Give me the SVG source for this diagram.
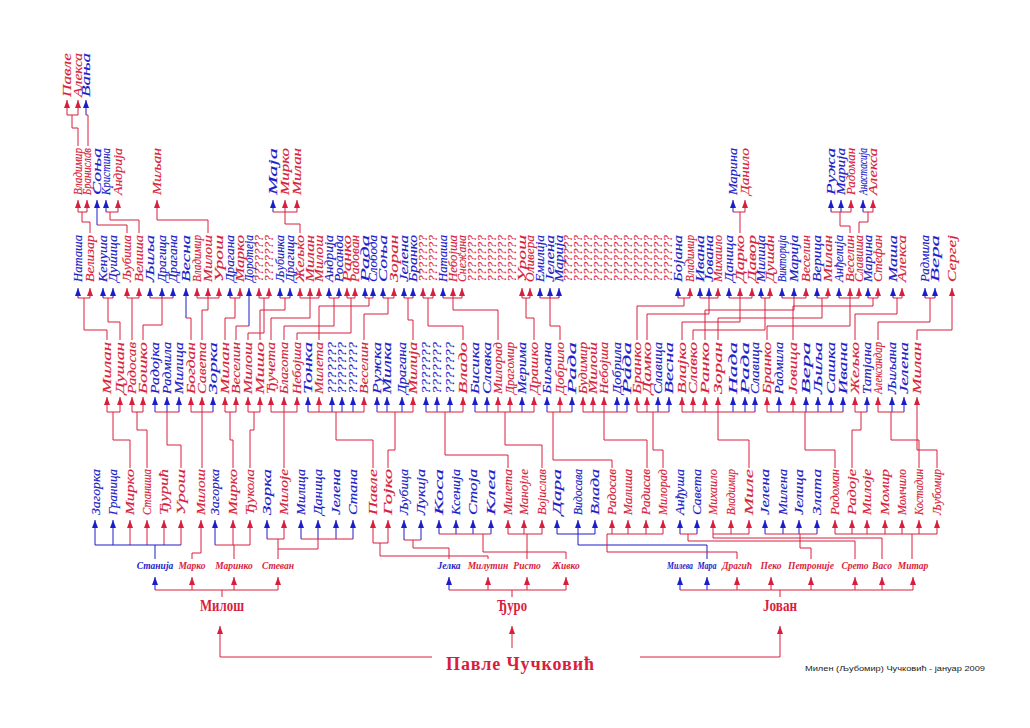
<svg xmlns="http://www.w3.org/2000/svg" width="1030" height="728" viewBox="0 0 1030 728">
<style>
.t{font-family:"Liberation Serif","DejaVu Serif",serif;font-style:italic;font-size:12px;stroke-width:0.15}
.h{font-family:"Liberation Serif","DejaVu Serif",serif;font-style:italic;font-weight:bold;font-size:9.5px}
.g{font-family:"Liberation Serif","DejaVu Serif",serif;font-weight:bold;font-size:16px;fill:#d81e3c}
.r{fill:#d81e3c;stroke:#d81e3c}.b{fill:#1c1cc8;stroke:#1c1cc8}
.h.r,.h.b{stroke:none}
.lr{stroke:#d81e3c;fill:none;stroke-width:1}
.lb{stroke:#1c1cc8;fill:none;stroke-width:1}
.ar{stroke:#d81e3c;fill:none;stroke-width:1;marker-end:url(#mr)}
.ab{stroke:#1c1cc8;fill:none;stroke-width:1;marker-end:url(#mb)}
</style>
<defs>
<marker id="mr" viewBox="0 0 8 6" refX="8" refY="3" markerWidth="8" markerHeight="6" markerUnits="userSpaceOnUse" orient="auto"><path d="M0,0L8,3L0,6z" fill="#d81e3c"/></marker>
<marker id="mb" viewBox="0 0 8 6" refX="8" refY="3" markerWidth="8" markerHeight="6" markerUnits="userSpaceOnUse" orient="auto"><path d="M0,0L8,3L0,6z" fill="#1c1cc8"/></marker>
</defs>
<rect width="1030" height="728" fill="#fff"/>
<g id="row0">
<g id="n0-1"><text class="t r" transform="translate(71,97) rotate(-90)" textLength="44" lengthAdjust="spacingAndGlyphs">Павле</text></g>
<g id="n0-2"><text class="t r" transform="translate(82,97) rotate(-90)" textLength="44" lengthAdjust="spacingAndGlyphs">Алекса</text></g>
<g id="n0-3"><text class="t b" transform="translate(90,97) rotate(-90)" textLength="44" lengthAdjust="spacingAndGlyphs">Вања</text></g>
</g>
<g id="row1">
<g id="n1-1"><text class="t r" transform="translate(82,195) rotate(-90)" textLength="47" lengthAdjust="spacingAndGlyphs">Владимир</text></g>
<g id="n1-2"><text class="t r" transform="translate(91,195) rotate(-90)" textLength="47" lengthAdjust="spacingAndGlyphs">Бранислав</text></g>
<g id="n1-3"><text class="t b" transform="translate(101,195) rotate(-90)" textLength="47" lengthAdjust="spacingAndGlyphs">Соња</text></g>
<g id="n1-4"><text class="t b" transform="translate(110,195) rotate(-90)" textLength="47" lengthAdjust="spacingAndGlyphs">Кристина</text></g>
<g id="n1-5"><text class="t r" transform="translate(122,195) rotate(-90)" textLength="47" lengthAdjust="spacingAndGlyphs">Андрија</text></g>
<g id="n1-6"><text class="t r" transform="translate(161,195) rotate(-90)" textLength="47" lengthAdjust="spacingAndGlyphs">Миљан</text></g>
<g id="n1-7"><text class="t b" transform="translate(277,195) rotate(-90)" textLength="47" lengthAdjust="spacingAndGlyphs">Маја</text></g>
<g id="n1-8"><text class="t r" transform="translate(289,195) rotate(-90)" textLength="47" lengthAdjust="spacingAndGlyphs">Мирко</text></g>
<g id="n1-9"><text class="t r" transform="translate(301,195) rotate(-90)" textLength="47" lengthAdjust="spacingAndGlyphs">Милан</text></g>
<g id="n1-10"><text class="t b" transform="translate(737,195) rotate(-90)" textLength="47" lengthAdjust="spacingAndGlyphs">Марина</text></g>
<g id="n1-11"><text class="t r" transform="translate(749,195) rotate(-90)" textLength="47" lengthAdjust="spacingAndGlyphs">Данило</text></g>
<g id="n1-12"><text class="t b" transform="translate(835,195) rotate(-90)" textLength="47" lengthAdjust="spacingAndGlyphs">Ружа</text></g>
<g id="n1-13"><text class="t b" transform="translate(845,195) rotate(-90)" textLength="47" lengthAdjust="spacingAndGlyphs">Марија</text></g>
<g id="n1-14"><text class="t r" transform="translate(855,195) rotate(-90)" textLength="47" lengthAdjust="spacingAndGlyphs">Радоман</text></g>
<g id="n1-15"><text class="t b" transform="translate(867,195) rotate(-90)" textLength="47" lengthAdjust="spacingAndGlyphs">Анастасија</text></g>
<g id="n1-16"><text class="t r" transform="translate(877,195) rotate(-90)" textLength="47" lengthAdjust="spacingAndGlyphs">Алекса</text></g>
</g>
<g id="row2">
<g id="n2-1"><text class="t b" transform="translate(82,282) rotate(-90)" textLength="47" lengthAdjust="spacingAndGlyphs">Наташа</text></g>
<g id="n2-2"><text class="t r" transform="translate(94,282) rotate(-90)" textLength="47" lengthAdjust="spacingAndGlyphs">Велизар</text></g>
<g id="n2-3"><text class="t b" transform="translate(107,282) rotate(-90)" textLength="47" lengthAdjust="spacingAndGlyphs">Кенуша</text></g>
<g id="n2-4"><text class="t b" transform="translate(117,282) rotate(-90)" textLength="47" lengthAdjust="spacingAndGlyphs">Душица</text></g>
<g id="n2-5"><text class="t r" transform="translate(131,282) rotate(-90)" textLength="47" lengthAdjust="spacingAndGlyphs">Љубиша</text></g>
<g id="n2-6"><text class="t r" transform="translate(143,282) rotate(-90)" textLength="47" lengthAdjust="spacingAndGlyphs">Велиша</text></g>
<g id="n2-7"><text class="t b" transform="translate(154,282) rotate(-90)" textLength="47" lengthAdjust="spacingAndGlyphs">Љиља</text></g>
<g id="n2-8"><text class="t b" transform="translate(166,282) rotate(-90)" textLength="47" lengthAdjust="spacingAndGlyphs">Драгица</text></g>
<g id="n2-9"><text class="t b" transform="translate(177,282) rotate(-90)" textLength="47" lengthAdjust="spacingAndGlyphs">Драгана</text></g>
<g id="n2-10"><text class="t b" transform="translate(190,282) rotate(-90)" textLength="47" lengthAdjust="spacingAndGlyphs">Весна</text></g>
<g id="n2-11"><text class="t r" transform="translate(201,282) rotate(-90)" textLength="47" lengthAdjust="spacingAndGlyphs">Владимир</text></g>
<g id="n2-12"><text class="t r" transform="translate(212,282) rotate(-90)" textLength="47" lengthAdjust="spacingAndGlyphs">Милош</text></g>
<g id="n2-13"><text class="t r" transform="translate(223,282) rotate(-90)" textLength="47" lengthAdjust="spacingAndGlyphs">Урош</text></g>
<g id="n2-14"><text class="t b" transform="translate(234,282) rotate(-90)" textLength="47" lengthAdjust="spacingAndGlyphs">Драгана</text></g>
<g id="n2-15"><text class="t r" transform="translate(244,282) rotate(-90)" textLength="47" lengthAdjust="spacingAndGlyphs">Марко</text></g>
<g id="n2-16"><text class="t b" transform="translate(253,282) rotate(-90)" textLength="47" lengthAdjust="spacingAndGlyphs">Доротеја</text></g>
<g id="n2-17"><text class="t r" transform="translate(263,282) rotate(-90)" textLength="47" lengthAdjust="spacingAndGlyphs">???????</text></g>
<g id="n2-18"><text class="t r" transform="translate(273,282) rotate(-90)" textLength="47" lengthAdjust="spacingAndGlyphs">???????</text></g>
<g id="n2-19"><text class="t b" transform="translate(284,282) rotate(-90)" textLength="47" lengthAdjust="spacingAndGlyphs">Љубинка</text></g>
<g id="n2-20"><text class="t b" transform="translate(294,282) rotate(-90)" textLength="47" lengthAdjust="spacingAndGlyphs">Драгица</text></g>
<g id="n2-21"><text class="t r" transform="translate(304,282) rotate(-90)" textLength="47" lengthAdjust="spacingAndGlyphs">Жељко</text></g>
<g id="n2-22"><text class="t r" transform="translate(314,282) rotate(-90)" textLength="47" lengthAdjust="spacingAndGlyphs">Милан</text></g>
<g id="n2-23"><text class="t r" transform="translate(323,282) rotate(-90)" textLength="47" lengthAdjust="spacingAndGlyphs">Милош</text></g>
<g id="n2-24"><text class="t b" transform="translate(333,282) rotate(-90)" textLength="47" lengthAdjust="spacingAndGlyphs">Андрија</text></g>
<g id="n2-25"><text class="t b" transform="translate(343,282) rotate(-90)" textLength="47" lengthAdjust="spacingAndGlyphs">Росанда</text></g>
<g id="n2-26"><text class="t r" transform="translate(351,282) rotate(-90)" textLength="47" lengthAdjust="spacingAndGlyphs">Ранко</text></g>
<g id="n2-27"><text class="t r" transform="translate(359,282) rotate(-90)" textLength="47" lengthAdjust="spacingAndGlyphs">Радован</text></g>
<g id="n2-28"><text class="t b" transform="translate(369,282) rotate(-90)" textLength="47" lengthAdjust="spacingAndGlyphs">Рада</text></g>
<g id="n2-29"><text class="t b" transform="translate(377,282) rotate(-90)" textLength="47" lengthAdjust="spacingAndGlyphs">Слобода</text></g>
<g id="n2-30"><text class="t b" transform="translate(387,282) rotate(-90)" textLength="47" lengthAdjust="spacingAndGlyphs">Соња</text></g>
<g id="n2-31"><text class="t r" transform="translate(398,282) rotate(-90)" textLength="47" lengthAdjust="spacingAndGlyphs">Зоран</text></g>
<g id="n2-32"><text class="t b" transform="translate(408,282) rotate(-90)" textLength="47" lengthAdjust="spacingAndGlyphs">Јелена</text></g>
<g id="n2-33"><text class="t b" transform="translate(417,282) rotate(-90)" textLength="47" lengthAdjust="spacingAndGlyphs">Бранко</text></g>
<g id="n2-34"><text class="t r" transform="translate(427,282) rotate(-90)" textLength="47" lengthAdjust="spacingAndGlyphs">???????</text></g>
<g id="n2-35"><text class="t r" transform="translate(437,282) rotate(-90)" textLength="47" lengthAdjust="spacingAndGlyphs">???????</text></g>
<g id="n2-36"><text class="t b" transform="translate(447,282) rotate(-90)" textLength="47" lengthAdjust="spacingAndGlyphs">Наташа</text></g>
<g id="n2-37"><text class="t r" transform="translate(457,282) rotate(-90)" textLength="47" lengthAdjust="spacingAndGlyphs">Небојша</text></g>
<g id="n2-38"><text class="t r" transform="translate(466,282) rotate(-90)" textLength="47" lengthAdjust="spacingAndGlyphs">Снежана</text></g>
<g id="n2-39"><text class="t r" transform="translate(476,282) rotate(-90)" textLength="47" lengthAdjust="spacingAndGlyphs">???????</text></g>
<g id="n2-40"><text class="t r" transform="translate(486,282) rotate(-90)" textLength="47" lengthAdjust="spacingAndGlyphs">???????</text></g>
<g id="n2-41"><text class="t r" transform="translate(496,282) rotate(-90)" textLength="47" lengthAdjust="spacingAndGlyphs">???????</text></g>
<g id="n2-42"><text class="t r" transform="translate(506,282) rotate(-90)" textLength="47" lengthAdjust="spacingAndGlyphs">???????</text></g>
<g id="n2-43"><text class="t r" transform="translate(516,282) rotate(-90)" textLength="47" lengthAdjust="spacingAndGlyphs">???????</text></g>
<g id="n2-44"><text class="t r" transform="translate(526,282) rotate(-90)" textLength="47" lengthAdjust="spacingAndGlyphs">Урош</text></g>
<g id="n2-45"><text class="t r" transform="translate(534,282) rotate(-90)" textLength="47" lengthAdjust="spacingAndGlyphs">Оливера</text></g>
<g id="n2-46"><text class="t b" transform="translate(544,282) rotate(-90)" textLength="47" lengthAdjust="spacingAndGlyphs">Емилија</text></g>
<g id="n2-47"><text class="t b" transform="translate(554,282) rotate(-90)" textLength="47" lengthAdjust="spacingAndGlyphs">Јелена</text></g>
<g id="n2-48"><text class="t b" transform="translate(563,282) rotate(-90)" textLength="47" lengthAdjust="spacingAndGlyphs">Марија</text></g>
<g id="n2-49"><text class="t r" transform="translate(572,282) rotate(-90)" textLength="47" lengthAdjust="spacingAndGlyphs">???????</text></g>
<g id="n2-50"><text class="t r" transform="translate(582,282) rotate(-90)" textLength="47" lengthAdjust="spacingAndGlyphs">???????</text></g>
<g id="n2-51"><text class="t r" transform="translate(592,282) rotate(-90)" textLength="47" lengthAdjust="spacingAndGlyphs">???????</text></g>
<g id="n2-52"><text class="t r" transform="translate(602,282) rotate(-90)" textLength="47" lengthAdjust="spacingAndGlyphs">???????</text></g>
<g id="n2-53"><text class="t r" transform="translate(612,282) rotate(-90)" textLength="47" lengthAdjust="spacingAndGlyphs">???????</text></g>
<g id="n2-54"><text class="t r" transform="translate(622,282) rotate(-90)" textLength="47" lengthAdjust="spacingAndGlyphs">???????</text></g>
<g id="n2-55"><text class="t r" transform="translate(632,282) rotate(-90)" textLength="47" lengthAdjust="spacingAndGlyphs">???????</text></g>
<g id="n2-56"><text class="t r" transform="translate(642,282) rotate(-90)" textLength="47" lengthAdjust="spacingAndGlyphs">???????</text></g>
<g id="n2-57"><text class="t r" transform="translate(652,282) rotate(-90)" textLength="47" lengthAdjust="spacingAndGlyphs">???????</text></g>
<g id="n2-58"><text class="t r" transform="translate(662,282) rotate(-90)" textLength="47" lengthAdjust="spacingAndGlyphs">???????</text></g>
<g id="n2-59"><text class="t r" transform="translate(672,282) rotate(-90)" textLength="47" lengthAdjust="spacingAndGlyphs">???????</text></g>
<g id="n2-60"><text class="t b" transform="translate(682,282) rotate(-90)" textLength="47" lengthAdjust="spacingAndGlyphs">Бојана</text></g>
<g id="n2-61"><text class="t r" transform="translate(694,282) rotate(-90)" textLength="47" lengthAdjust="spacingAndGlyphs">Владимир</text></g>
<g id="n2-62"><text class="t b" transform="translate(704,282) rotate(-90)" textLength="47" lengthAdjust="spacingAndGlyphs">Ивана</text></g>
<g id="n2-63"><text class="t b" transform="translate(713,282) rotate(-90)" textLength="47" lengthAdjust="spacingAndGlyphs">Јована</text></g>
<g id="n2-64"><text class="t r" transform="translate(722,282) rotate(-90)" textLength="47" lengthAdjust="spacingAndGlyphs">Михаило</text></g>
<g id="n2-65"><text class="t b" transform="translate(733,282) rotate(-90)" textLength="47" lengthAdjust="spacingAndGlyphs">Даница</text></g>
<g id="n2-66"><text class="t r" transform="translate(744,282) rotate(-90)" textLength="47" lengthAdjust="spacingAndGlyphs">Дарко</text></g>
<g id="n2-67"><text class="t r" transform="translate(756,282) rotate(-90)" textLength="47" lengthAdjust="spacingAndGlyphs">Давор</text></g>
<g id="n2-68"><text class="t b" transform="translate(765,282) rotate(-90)" textLength="47" lengthAdjust="spacingAndGlyphs">Милица</text></g>
<g id="n2-69"><text class="t r" transform="translate(774,282) rotate(-90)" textLength="47" lengthAdjust="spacingAndGlyphs">Душан</text></g>
<g id="n2-70"><text class="t b" transform="translate(786,282) rotate(-90)" textLength="47" lengthAdjust="spacingAndGlyphs">Викторија</text></g>
<g id="n2-71"><text class="t b" transform="translate(798,282) rotate(-90)" textLength="47" lengthAdjust="spacingAndGlyphs">Марија</text></g>
<g id="n2-72"><text class="t r" transform="translate(810,282) rotate(-90)" textLength="47" lengthAdjust="spacingAndGlyphs">Веселин</text></g>
<g id="n2-73"><text class="t b" transform="translate(821,282) rotate(-90)" textLength="47" lengthAdjust="spacingAndGlyphs">Верица</text></g>
<g id="n2-74"><text class="t r" transform="translate(832,282) rotate(-90)" textLength="47" lengthAdjust="spacingAndGlyphs">Милан</text></g>
<g id="n2-75"><text class="t b" transform="translate(843,282) rotate(-90)" textLength="47" lengthAdjust="spacingAndGlyphs">Анђелија</text></g>
<g id="n2-76"><text class="t r" transform="translate(854,282) rotate(-90)" textLength="47" lengthAdjust="spacingAndGlyphs">Веселин</text></g>
<g id="n2-77"><text class="t r" transform="translate(863,282) rotate(-90)" textLength="47" lengthAdjust="spacingAndGlyphs">Славиша</text></g>
<g id="n2-78"><text class="t b" transform="translate(872,282) rotate(-90)" textLength="47" lengthAdjust="spacingAndGlyphs">Марина</text></g>
<g id="n2-79"><text class="t r" transform="translate(882,282) rotate(-90)" textLength="47" lengthAdjust="spacingAndGlyphs">Стефан</text></g>
<g id="n2-80"><text class="t b" transform="translate(897,282) rotate(-90)" textLength="47" lengthAdjust="spacingAndGlyphs">Маша</text></g>
<g id="n2-81"><text class="t r" transform="translate(906,282) rotate(-90)" textLength="47" lengthAdjust="spacingAndGlyphs">Алекса</text></g>
<g id="n2-82"><text class="t b" transform="translate(929,282) rotate(-90)" textLength="47" lengthAdjust="spacingAndGlyphs">Радмила</text></g>
<g id="n2-83"><text class="t b" transform="translate(939,282) rotate(-90)" textLength="47" lengthAdjust="spacingAndGlyphs">Вера</text></g>
<g id="n2-84"><text class="t r" transform="translate(956,282) rotate(-90)" textLength="47" lengthAdjust="spacingAndGlyphs">Сергеј</text></g>
</g>
<g id="row3">
<g id="n3-1"><text class="t r" transform="translate(111,394) rotate(-90)" textLength="52" lengthAdjust="spacingAndGlyphs">Милан</text></g>
<g id="n3-2"><text class="t r" transform="translate(124,394) rotate(-90)" textLength="52" lengthAdjust="spacingAndGlyphs">Душан</text></g>
<g id="n3-3"><text class="t r" transform="translate(136,394) rotate(-90)" textLength="52" lengthAdjust="spacingAndGlyphs">Радосав</text></g>
<g id="n3-4"><text class="t r" transform="translate(147,394) rotate(-90)" textLength="52" lengthAdjust="spacingAndGlyphs">Бошко</text></g>
<g id="n3-5"><text class="t b" transform="translate(159,394) rotate(-90)" textLength="52" lengthAdjust="spacingAndGlyphs">Радојка</text></g>
<g id="n3-6"><text class="t b" transform="translate(171,394) rotate(-90)" textLength="52" lengthAdjust="spacingAndGlyphs">Радмила</text></g>
<g id="n3-7"><text class="t b" transform="translate(183,394) rotate(-90)" textLength="52" lengthAdjust="spacingAndGlyphs">Милица</text></g>
<g id="n3-8"><text class="t r" transform="translate(195,394) rotate(-90)" textLength="52" lengthAdjust="spacingAndGlyphs">Богдан</text></g>
<g id="n3-9"><text class="t r" transform="translate(206,394) rotate(-90)" textLength="52" lengthAdjust="spacingAndGlyphs">Савета</text></g>
<g id="n3-10"><text class="t b" transform="translate(217,394) rotate(-90)" textLength="52" lengthAdjust="spacingAndGlyphs">Зорка</text></g>
<g id="n3-11"><text class="t r" transform="translate(229,394) rotate(-90)" textLength="52" lengthAdjust="spacingAndGlyphs">Милан</text></g>
<g id="n3-12"><text class="t r" transform="translate(240,394) rotate(-90)" textLength="52" lengthAdjust="spacingAndGlyphs">Веселин</text></g>
<g id="n3-13"><text class="t r" transform="translate(252,394) rotate(-90)" textLength="52" lengthAdjust="spacingAndGlyphs">Милош</text></g>
<g id="n3-14"><text class="t r" transform="translate(264,394) rotate(-90)" textLength="52" lengthAdjust="spacingAndGlyphs">Мишо</text></g>
<g id="n3-15"><text class="t r" transform="translate(275,394) rotate(-90)" textLength="52" lengthAdjust="spacingAndGlyphs">Ђучета</text></g>
<g id="n3-16"><text class="t r" transform="translate(288,394) rotate(-90)" textLength="52" lengthAdjust="spacingAndGlyphs">Благота</text></g>
<g id="n3-17"><text class="t r" transform="translate(301,394) rotate(-90)" textLength="52" lengthAdjust="spacingAndGlyphs">Небојша</text></g>
<g id="n3-18"><text class="t b" transform="translate(312,394) rotate(-90)" textLength="52" lengthAdjust="spacingAndGlyphs">Тонка</text></g>
<g id="n3-19"><text class="t r" transform="translate(323,394) rotate(-90)" textLength="52" lengthAdjust="spacingAndGlyphs">Милета</text></g>
<g id="n3-20"><text class="t b" transform="translate(336,394) rotate(-90)" textLength="52" lengthAdjust="spacingAndGlyphs">???????</text></g>
<g id="n3-21"><text class="t b" transform="translate(346,394) rotate(-90)" textLength="52" lengthAdjust="spacingAndGlyphs">???????</text></g>
<g id="n3-22"><text class="t b" transform="translate(357,394) rotate(-90)" textLength="52" lengthAdjust="spacingAndGlyphs">???????</text></g>
<g id="n3-23"><text class="t r" transform="translate(368,394) rotate(-90)" textLength="52" lengthAdjust="spacingAndGlyphs">Веселин</text></g>
<g id="n3-24"><text class="t b" transform="translate(381,394) rotate(-90)" textLength="52" lengthAdjust="spacingAndGlyphs">Ружка</text></g>
<g id="n3-25"><text class="t b" transform="translate(391,394) rotate(-90)" textLength="52" lengthAdjust="spacingAndGlyphs">Милка</text></g>
<g id="n3-26"><text class="t b" transform="translate(406,394) rotate(-90)" textLength="52" lengthAdjust="spacingAndGlyphs">Драгана</text></g>
<g id="n3-27"><text class="t r" transform="translate(417,394) rotate(-90)" textLength="52" lengthAdjust="spacingAndGlyphs">Милија</text></g>
<g id="n3-28"><text class="t b" transform="translate(430,394) rotate(-90)" textLength="52" lengthAdjust="spacingAndGlyphs">???????</text></g>
<g id="n3-29"><text class="t b" transform="translate(441,394) rotate(-90)" textLength="52" lengthAdjust="spacingAndGlyphs">???????</text></g>
<g id="n3-30"><text class="t b" transform="translate(454,394) rotate(-90)" textLength="52" lengthAdjust="spacingAndGlyphs">???????</text></g>
<g id="n3-31"><text class="t r" transform="translate(467,394) rotate(-90)" textLength="52" lengthAdjust="spacingAndGlyphs">Владо</text></g>
<g id="n3-32"><text class="t b" transform="translate(479,394) rotate(-90)" textLength="52" lengthAdjust="spacingAndGlyphs">Бисика</text></g>
<g id="n3-33"><text class="t b" transform="translate(491,394) rotate(-90)" textLength="52" lengthAdjust="spacingAndGlyphs">Славка</text></g>
<g id="n3-34"><text class="t r" transform="translate(502,394) rotate(-90)" textLength="52" lengthAdjust="spacingAndGlyphs">Милорад</text></g>
<g id="n3-35"><text class="t r" transform="translate(514,394) rotate(-90)" textLength="52" lengthAdjust="spacingAndGlyphs">Драгомир</text></g>
<g id="n3-36"><text class="t b" transform="translate(526,394) rotate(-90)" textLength="52" lengthAdjust="spacingAndGlyphs">Мерима</text></g>
<g id="n3-37"><text class="t r" transform="translate(538,394) rotate(-90)" textLength="52" lengthAdjust="spacingAndGlyphs">Драшко</text></g>
<g id="n3-38"><text class="t b" transform="translate(551,394) rotate(-90)" textLength="52" lengthAdjust="spacingAndGlyphs">Биљана</text></g>
<g id="n3-39"><text class="t r" transform="translate(564,394) rotate(-90)" textLength="52" lengthAdjust="spacingAndGlyphs">Добрило</text></g>
<g id="n3-40"><text class="t b" transform="translate(576,394) rotate(-90)" textLength="52" lengthAdjust="spacingAndGlyphs">Рада</text></g>
<g id="n3-41"><text class="t r" transform="translate(587,394) rotate(-90)" textLength="52" lengthAdjust="spacingAndGlyphs">Будимир</text></g>
<g id="n3-42"><text class="t r" transform="translate(597,394) rotate(-90)" textLength="52" lengthAdjust="spacingAndGlyphs">Милош</text></g>
<g id="n3-43"><text class="t r" transform="translate(608,394) rotate(-90)" textLength="52" lengthAdjust="spacingAndGlyphs">Небојша</text></g>
<g id="n3-44"><text class="t b" transform="translate(621,394) rotate(-90)" textLength="52" lengthAdjust="spacingAndGlyphs">Добрила</text></g>
<g id="n3-45"><text class="t b" transform="translate(631,394) rotate(-90)" textLength="52" lengthAdjust="spacingAndGlyphs">Рада</text></g>
<g id="n3-46"><text class="t r" transform="translate(641,394) rotate(-90)" textLength="52" lengthAdjust="spacingAndGlyphs">Бранко</text></g>
<g id="n3-47"><text class="t r" transform="translate(651,394) rotate(-90)" textLength="52" lengthAdjust="spacingAndGlyphs">Дамко</text></g>
<g id="n3-48"><text class="t b" transform="translate(662,394) rotate(-90)" textLength="52" lengthAdjust="spacingAndGlyphs">Славица</text></g>
<g id="n3-49"><text class="t b" transform="translate(673,394) rotate(-90)" textLength="52" lengthAdjust="spacingAndGlyphs">Весна</text></g>
<g id="n3-50"><text class="t r" transform="translate(686,394) rotate(-90)" textLength="52" lengthAdjust="spacingAndGlyphs">Влајко</text></g>
<g id="n3-51"><text class="t r" transform="translate(697,394) rotate(-90)" textLength="52" lengthAdjust="spacingAndGlyphs">Славко</text></g>
<g id="n3-52"><text class="t r" transform="translate(709,394) rotate(-90)" textLength="52" lengthAdjust="spacingAndGlyphs">Ранко</text></g>
<g id="n3-53"><text class="t r" transform="translate(722,394) rotate(-90)" textLength="52" lengthAdjust="spacingAndGlyphs">Зоран</text></g>
<g id="n3-54"><text class="t b" transform="translate(737,394) rotate(-90)" textLength="52" lengthAdjust="spacingAndGlyphs">Нада</text></g>
<g id="n3-55"><text class="t b" transform="translate(749,394) rotate(-90)" textLength="52" lengthAdjust="spacingAndGlyphs">Рада</text></g>
<g id="n3-56"><text class="t b" transform="translate(759,394) rotate(-90)" textLength="52" lengthAdjust="spacingAndGlyphs">Славица</text></g>
<g id="n3-57"><text class="t r" transform="translate(771,394) rotate(-90)" textLength="52" lengthAdjust="spacingAndGlyphs">Бранко</text></g>
<g id="n3-58"><text class="t b" transform="translate(783,394) rotate(-90)" textLength="52" lengthAdjust="spacingAndGlyphs">Радмила</text></g>
<g id="n3-59"><text class="t r" transform="translate(797,394) rotate(-90)" textLength="52" lengthAdjust="spacingAndGlyphs">Јовица</text></g>
<g id="n3-60"><text class="t b" transform="translate(810,394) rotate(-90)" textLength="52" lengthAdjust="spacingAndGlyphs">Вера</text></g>
<g id="n3-61"><text class="t b" transform="translate(822,394) rotate(-90)" textLength="52" lengthAdjust="spacingAndGlyphs">Љиља</text></g>
<g id="n3-62"><text class="t b" transform="translate(835,394) rotate(-90)" textLength="52" lengthAdjust="spacingAndGlyphs">Сашка</text></g>
<g id="n3-63"><text class="t b" transform="translate(847,394) rotate(-90)" textLength="52" lengthAdjust="spacingAndGlyphs">Ивана</text></g>
<g id="n3-64"><text class="t r" transform="translate(859,394) rotate(-90)" textLength="52" lengthAdjust="spacingAndGlyphs">Жељко</text></g>
<g id="n3-65"><text class="t b" transform="translate(871,394) rotate(-90)" textLength="52" lengthAdjust="spacingAndGlyphs">Татјана</text></g>
<g id="n3-66"><text class="t r" transform="translate(882,394) rotate(-90)" textLength="52" lengthAdjust="spacingAndGlyphs">Александар</text></g>
<g id="n3-67"><text class="t b" transform="translate(896,394) rotate(-90)" textLength="52" lengthAdjust="spacingAndGlyphs">Љиљана</text></g>
<g id="n3-68"><text class="t b" transform="translate(908,394) rotate(-90)" textLength="52" lengthAdjust="spacingAndGlyphs">Јелена</text></g>
<g id="n3-69"><text class="t r" transform="translate(921,394) rotate(-90)" textLength="52" lengthAdjust="spacingAndGlyphs">Милан</text></g>
</g>
<g id="row4">
<g id="n4-1"><text class="t b" transform="translate(100,515) rotate(-90)" textLength="46" lengthAdjust="spacingAndGlyphs">Загорка</text></g>
<g id="n4-2"><text class="t b" transform="translate(117,515) rotate(-90)" textLength="46" lengthAdjust="spacingAndGlyphs">Граница</text></g>
<g id="n4-3"><text class="t r" transform="translate(134,515) rotate(-90)" textLength="46" lengthAdjust="spacingAndGlyphs">Мирко</text></g>
<g id="n4-4"><text class="t r" transform="translate(151,515) rotate(-90)" textLength="46" lengthAdjust="spacingAndGlyphs">Станиша</text></g>
<g id="n4-5"><text class="t r" transform="translate(168,515) rotate(-90)" textLength="46" lengthAdjust="spacingAndGlyphs">Ђурић</text></g>
<g id="n4-6"><text class="t r" transform="translate(185,515) rotate(-90)" textLength="46" lengthAdjust="spacingAndGlyphs">Урош</text></g>
<g id="n4-7"><text class="t r" transform="translate(205,515) rotate(-90)" textLength="46" lengthAdjust="spacingAndGlyphs">Милош</text></g>
<g id="n4-8"><text class="t b" transform="translate(219,515) rotate(-90)" textLength="46" lengthAdjust="spacingAndGlyphs">Загорка</text></g>
<g id="n4-9"><text class="t r" transform="translate(237,515) rotate(-90)" textLength="46" lengthAdjust="spacingAndGlyphs">Мирко</text></g>
<g id="n4-10"><text class="t r" transform="translate(254,515) rotate(-90)" textLength="46" lengthAdjust="spacingAndGlyphs">Ђукола</text></g>
<g id="n4-11"><text class="t b" transform="translate(271,515) rotate(-90)" textLength="46" lengthAdjust="spacingAndGlyphs">Зорка</text></g>
<g id="n4-12"><text class="t r" transform="translate(288,515) rotate(-90)" textLength="46" lengthAdjust="spacingAndGlyphs">Милоје</text></g>
<g id="n4-13"><text class="t b" transform="translate(305,515) rotate(-90)" textLength="46" lengthAdjust="spacingAndGlyphs">Милица</text></g>
<g id="n4-14"><text class="t b" transform="translate(322,515) rotate(-90)" textLength="46" lengthAdjust="spacingAndGlyphs">Даница</text></g>
<g id="n4-15"><text class="t b" transform="translate(340,515) rotate(-90)" textLength="46" lengthAdjust="spacingAndGlyphs">Јелена</text></g>
<g id="n4-16"><text class="t b" transform="translate(357,515) rotate(-90)" textLength="46" lengthAdjust="spacingAndGlyphs">Стана</text></g>
<g id="n4-17"><text class="t r" transform="translate(377,515) rotate(-90)" textLength="46" lengthAdjust="spacingAndGlyphs">Павле</text></g>
<g id="n4-18"><text class="t r" transform="translate(392,515) rotate(-90)" textLength="46" lengthAdjust="spacingAndGlyphs">Гојко</text></g>
<g id="n4-19"><text class="t b" transform="translate(408,515) rotate(-90)" textLength="46" lengthAdjust="spacingAndGlyphs">Љубица</text></g>
<g id="n4-20"><text class="t b" transform="translate(425,515) rotate(-90)" textLength="46" lengthAdjust="spacingAndGlyphs">Лукија</text></g>
<g id="n4-21"><text class="t b" transform="translate(443,515) rotate(-90)" textLength="46" lengthAdjust="spacingAndGlyphs">Коса</text></g>
<g id="n4-22"><text class="t b" transform="translate(460,515) rotate(-90)" textLength="46" lengthAdjust="spacingAndGlyphs">Ксенија</text></g>
<g id="n4-23"><text class="t b" transform="translate(477,515) rotate(-90)" textLength="46" lengthAdjust="spacingAndGlyphs">Стоја</text></g>
<g id="n4-24"><text class="t b" transform="translate(495,515) rotate(-90)" textLength="46" lengthAdjust="spacingAndGlyphs">Клеа</text></g>
<g id="n4-25"><text class="t r" transform="translate(512,515) rotate(-90)" textLength="46" lengthAdjust="spacingAndGlyphs">Милета</text></g>
<g id="n4-26"><text class="t r" transform="translate(528,515) rotate(-90)" textLength="46" lengthAdjust="spacingAndGlyphs">Манојле</text></g>
<g id="n4-27"><text class="t r" transform="translate(546,515) rotate(-90)" textLength="46" lengthAdjust="spacingAndGlyphs">Војислав</text></g>
<g id="n4-28"><text class="t b" transform="translate(561,515) rotate(-90)" textLength="46" lengthAdjust="spacingAndGlyphs">Дара</text></g>
<g id="n4-29"><text class="t b" transform="translate(582,515) rotate(-90)" textLength="46" lengthAdjust="spacingAndGlyphs">Видосава</text></g>
<g id="n4-30"><text class="t b" transform="translate(599,515) rotate(-90)" textLength="46" lengthAdjust="spacingAndGlyphs">Влада</text></g>
<g id="n4-31"><text class="t r" transform="translate(616,515) rotate(-90)" textLength="46" lengthAdjust="spacingAndGlyphs">Радосав</text></g>
<g id="n4-32"><text class="t r" transform="translate(632,515) rotate(-90)" textLength="46" lengthAdjust="spacingAndGlyphs">Малиша</text></g>
<g id="n4-33"><text class="t r" transform="translate(650,515) rotate(-90)" textLength="46" lengthAdjust="spacingAndGlyphs">Радисав</text></g>
<g id="n4-34"><text class="t r" transform="translate(667,515) rotate(-90)" textLength="46" lengthAdjust="spacingAndGlyphs">Милорад</text></g>
<g id="n4-35"><text class="t b" transform="translate(684,515) rotate(-90)" textLength="46" lengthAdjust="spacingAndGlyphs">Анђуша</text></g>
<g id="n4-36"><text class="t b" transform="translate(701,515) rotate(-90)" textLength="46" lengthAdjust="spacingAndGlyphs">Савета</text></g>
<g id="n4-37"><text class="t r" transform="translate(717,515) rotate(-90)" textLength="46" lengthAdjust="spacingAndGlyphs">Михаило</text></g>
<g id="n4-38"><text class="t r" transform="translate(735,515) rotate(-90)" textLength="46" lengthAdjust="spacingAndGlyphs">Владимир</text></g>
<g id="n4-39"><text class="t r" transform="translate(753,515) rotate(-90)" textLength="46" lengthAdjust="spacingAndGlyphs">Миле</text></g>
<g id="n4-40"><text class="t b" transform="translate(769,515) rotate(-90)" textLength="46" lengthAdjust="spacingAndGlyphs">Јелена</text></g>
<g id="n4-41"><text class="t b" transform="translate(787,515) rotate(-90)" textLength="46" lengthAdjust="spacingAndGlyphs">Милена</text></g>
<g id="n4-42"><text class="t b" transform="translate(803,515) rotate(-90)" textLength="46" lengthAdjust="spacingAndGlyphs">Јелица</text></g>
<g id="n4-43"><text class="t b" transform="translate(821,515) rotate(-90)" textLength="46" lengthAdjust="spacingAndGlyphs">Злата</text></g>
<g id="n4-44"><text class="t r" transform="translate(839,515) rotate(-90)" textLength="46" lengthAdjust="spacingAndGlyphs">Радоман</text></g>
<g id="n4-45"><text class="t r" transform="translate(856,515) rotate(-90)" textLength="46" lengthAdjust="spacingAndGlyphs">Радоје</text></g>
<g id="n4-46"><text class="t r" transform="translate(871,515) rotate(-90)" textLength="46" lengthAdjust="spacingAndGlyphs">Милоје</text></g>
<g id="n4-47"><text class="t r" transform="translate(889,515) rotate(-90)" textLength="46" lengthAdjust="spacingAndGlyphs">Момир</text></g>
<g id="n4-48"><text class="t r" transform="translate(906,515) rotate(-90)" textLength="46" lengthAdjust="spacingAndGlyphs">Момчило</text></g>
<g id="n4-49"><text class="t r" transform="translate(923,515) rotate(-90)" textLength="46" lengthAdjust="spacingAndGlyphs">Костадин</text></g>
<g id="n4-50"><text class="t r" transform="translate(941,515) rotate(-90)" textLength="46" lengthAdjust="spacingAndGlyphs">Љубомир</text></g>
</g>
<g id="row5">
<g id="n5-1"><text class="h b" x="155" y="569" text-anchor="middle">Станија</text></g>
<g id="n5-2"><text class="h r" x="192" y="569" text-anchor="middle">Марко</text></g>
<g id="n5-3"><text class="h r" x="234" y="569" text-anchor="middle">Маринко</text></g>
<g id="n5-4"><text class="h r" x="278" y="569" text-anchor="middle">Стеван</text></g>
<g id="n5-5"><text class="h b" x="449" y="569" text-anchor="middle">Јелка</text></g>
<g id="n5-6"><text class="h r" x="488" y="569" text-anchor="middle">Милутин</text></g>
<g id="n5-7"><text class="h r" x="527" y="569" text-anchor="middle">Ристо</text></g>
<g id="n5-8"><text class="h r" x="566" y="569" text-anchor="middle">Живко</text></g>
<g id="n5-9"><text class="h b" x="680" y="569" text-anchor="middle" textLength="26" lengthAdjust="spacingAndGlyphs">Милева</text></g>
<g id="n5-10"><text class="h b" x="707" y="569" text-anchor="middle" textLength="19" lengthAdjust="spacingAndGlyphs">Мара</text></g>
<g id="n5-11"><text class="h r" x="737" y="569" text-anchor="middle">Драгић</text></g>
<g id="n5-12"><text class="h r" x="771" y="569" text-anchor="middle">Пеко</text></g>
<g id="n5-13"><text class="h r" x="811" y="569" text-anchor="middle">Петроније</text></g>
<g id="n5-14"><text class="h r" x="855" y="569" text-anchor="middle">Срето</text></g>
<g id="n5-15"><text class="h r" x="882" y="569" text-anchor="middle">Васо</text></g>
<g id="n5-16"><text class="h r" x="913" y="569" text-anchor="middle">Митар</text></g>
</g>
<g id="gen1">
<g id="n6-1"><text class="g" x="222" y="611" text-anchor="middle" textLength="44" lengthAdjust="spacingAndGlyphs">Милош</text></g>
<g id="n6-2"><text class="g" x="512" y="611" text-anchor="middle" textLength="30" lengthAdjust="spacingAndGlyphs">Ђуро</text></g>
<g id="n6-3"><text class="g" x="780" y="611" text-anchor="middle" textLength="34" lengthAdjust="spacingAndGlyphs">Јован</text></g>
</g>
<g id="root"><text x="520" y="670" text-anchor="middle" font-family="Liberation Serif,serif" font-weight="bold" font-size="18" fill="#d81e3c" textLength="148" lengthAdjust="spacing">Павле Чучковић</text></g>
<g id="credit"><text x="895" y="671" text-anchor="middle" font-family="Liberation Sans,sans-serif" font-size="8" fill="#222" textLength="180" lengthAdjust="spacingAndGlyphs">Милен (Љубомир) Чучковић - јануар 2009</text></g>
<g id="connectors">
<path class="ar" d="M67 115V100"/><path class="ar" d="M78 115V100"/><path class="ab" d="M86 115V100"/>
<path class="lr" d="M67 115H78M72 115V128H78V146M86 115H88V146"/>
<path class="ar" d="M78 212V200"/><path class="ar" d="M87 212V200"/><path class="ab" d="M97 212V200"/><path class="ab" d="M106 212V200"/><path class="ar" d="M118 212V200"/>
<path class="lr" d="M78 212H87M82 212V222H90V233"/>
<path class="lb" d="M97 212V225"/><path class="lr" d="M97 225H127V233"/>
<path class="lr" d="M106 212H118M110 212V220H139V233"/>
<path class="ar" d="M157 220V200"/><path class="lr" d="M157 220H208V233"/>
<path class="ab" d="M273 212V200"/><path class="ar" d="M285 212V200"/><path class="ar" d="M297 212V200"/>
<path class="lr" d="M273 212H297M285 212V224H300V233"/>
<path class="ab" d="M733 212V200"/><path class="ar" d="M745 212V200"/>
<path class="lr" d="M733 212H745M740 212V233"/>
<path class="ab" d="M831 212V200"/><path class="ab" d="M841 212V200"/><path class="ar" d="M851 212V200"/>
<path class="lr" d="M831 212H851M840 212V226H850V233"/>
<path class="ab" d="M863 212V200"/><path class="ar" d="M873 212V200"/>
<path class="lr" d="M863 212H873M868 212V222H859V233"/>

<path class="ab" d="M78 298V288"/><path class="ar" d="M90 298V288"/><path class="ab" d="M103 298V288"/><path class="ab" d="M113 298V288"/><path class="ar" d="M127 298V288"/><path class="ar" d="M139 298V288"/><path class="ab" d="M150 298V288"/><path class="ab" d="M162 298V288"/><path class="ab" d="M173 298V288"/><path class="ab" d="M186 318V288"/><path class="ar" d="M197 298V288"/><path class="ar" d="M208 298V288"/><path class="ar" d="M219 298V288"/><path class="ab" d="M230 298V288"/><path class="ar" d="M240 298V288"/><path class="ab" d="M249 326V288"/><path class="ar" d="M259 298V288"/><path class="ar" d="M269 298V288"/><path class="ab" d="M280 298V288"/><path class="ab" d="M290 298V288"/><path class="ar" d="M300 298V288"/><path class="ar" d="M310 298V288"/><path class="ar" d="M319 298V288"/><path class="ab" d="M329 298V288"/><path class="ab" d="M339 298V288"/><path class="ar" d="M347 298V288"/><path class="ar" d="M355 298V288"/><path class="ab" d="M365 298V288"/><path class="ab" d="M373 298V288"/><path class="ab" d="M383 298V288"/><path class="ar" d="M394 298V288"/><path class="ab" d="M404 298V288"/><path class="ab" d="M413 298V288"/><path class="ar" d="M423 298V288"/><path class="ar" d="M433 298V288"/><path class="ab" d="M443 298V288"/><path class="ar" d="M453 298V288"/><path class="ar" d="M462 298V288"/><path class="ar" d="M522 298V288"/><path class="ar" d="M530 298V288"/><path class="ab" d="M540 298V288"/><path class="ab" d="M550 298V288"/><path class="ab" d="M559 298V288"/><path class="ab" d="M678 298V288"/><path class="ar" d="M690 298V288"/><path class="ab" d="M700 298V288"/><path class="ab" d="M709 298V288"/><path class="ar" d="M718 298V288"/><path class="ab" d="M729 298V288"/><path class="ar" d="M740 298V288"/><path class="ar" d="M752 298V288"/><path class="ab" d="M761 298V288"/><path class="ar" d="M770 298V288"/><path class="ab" d="M782 298V288"/><path class="ab" d="M794 298V288"/><path class="ar" d="M806 298V288"/><path class="ab" d="M817 298V288"/><path class="ar" d="M828 298V288"/><path class="ab" d="M839 298V288"/><path class="ar" d="M850 298V288"/><path class="ar" d="M859 298V288"/><path class="ab" d="M868 298V288"/><path class="ar" d="M878 298V288"/><path class="ab" d="M893 298V288"/><path class="ar" d="M902 298V288"/><path class="ab" d="M925 298V288"/><path class="ab" d="M935 298V288"/><path class="ar" d="M952 330V288"/>
<path class="lr" d="M78 298H90M84 298V330H107V340M103 298H113M108 298V322H120V340M127 298H139M132 298V340M150 298H173M162 298V325H143V340M186 318H191V340M197 298H219M208 298V310H202V340M230 298H240M235 298V318H225V340M249 326H236V340M259 298H269M264 298V333H248V340M280 298H290M285 298V310H260V340M300 298H319M310 298V318H271V340M329 298H339M334 298V326H284V340M347 298H355M351 298V333H297V340M365 298H373M369 298V306H319V340M383 298H394M388 298V314H364V340M404 298H413M408 298V320H413V340M423 298H433M428 298V326H463V340M443 298H462M453 298V310H498V340M522 298H530M526 298V318H534V340M540 298H559M550 298V326H560V340M678 298H690M684 298V306H637V340M700 298H718M709 298V314H647V340M729 298H752M740 298V322H682V340M761 298H770M765 298V330H693V340M782 298H806M794 298V310H705V340M817 298H828M822 298V318H718V340M839 298H859M850 298V326H767V340M868 298H878M873 298V306H793V340M893 298H902M897 298V314H855V340M925 298H935M930 298V322H878V340M952 330H917V340"/>

<path class="ar" d="M107 412V397"/><path class="ar" d="M120 412V397"/><path class="ar" d="M132 412V397"/><path class="ar" d="M143 412V397"/><path class="ab" d="M155 412V397"/><path class="ab" d="M167 412V397"/><path class="ab" d="M179 412V397"/><path class="ar" d="M191 412V397"/><path class="ar" d="M202 412V397"/><path class="ab" d="M213 412V397"/><path class="ar" d="M225 412V397"/><path class="ar" d="M236 412V397"/><path class="ar" d="M248 412V397"/><path class="ar" d="M260 412V397"/><path class="ar" d="M271 412V397"/><path class="ar" d="M284 412V397"/><path class="ar" d="M297 412V397"/><path class="ab" d="M308 412V397"/><path class="ar" d="M319 412V397"/><path class="ab" d="M332 412V397"/><path class="ab" d="M342 412V397"/><path class="ab" d="M353 412V397"/><path class="ar" d="M364 412V397"/><path class="ab" d="M377 412V397"/><path class="ab" d="M387 412V397"/><path class="ab" d="M402 412V397"/><path class="ar" d="M413 412V397"/><path class="ab" d="M426 412V397"/><path class="ab" d="M437 412V397"/><path class="ab" d="M450 412V397"/><path class="ar" d="M463 412V397"/><path class="ab" d="M475 412V397"/><path class="ab" d="M487 412V397"/><path class="ar" d="M498 412V397"/><path class="ar" d="M510 412V397"/><path class="ab" d="M522 412V397"/><path class="ar" d="M534 412V397"/><path class="ab" d="M547 412V397"/><path class="ar" d="M560 412V397"/><path class="ab" d="M572 412V397"/><path class="ar" d="M583 412V397"/><path class="ar" d="M593 412V397"/><path class="ar" d="M604 412V397"/><path class="ab" d="M617 412V397"/><path class="ab" d="M627 412V397"/><path class="ar" d="M637 412V397"/><path class="ar" d="M647 412V397"/><path class="ab" d="M658 412V397"/><path class="ab" d="M669 412V397"/><path class="ar" d="M682 412V397"/><path class="ar" d="M693 412V397"/><path class="ar" d="M705 412V397"/><path class="ar" d="M718 412V397"/><path class="ab" d="M733 412V397"/><path class="ab" d="M745 412V397"/><path class="ab" d="M755 412V397"/><path class="ar" d="M767 412V397"/><path class="ab" d="M779 412V397"/><path class="ar" d="M793 412V397"/><path class="ab" d="M806 412V397"/><path class="ab" d="M818 412V397"/><path class="ab" d="M831 412V397"/><path class="ab" d="M843 412V397"/><path class="ar" d="M855 412V397"/><path class="ab" d="M867 412V397"/><path class="ar" d="M878 412V397"/><path class="ab" d="M892 412V397"/><path class="ab" d="M904 412V397"/><path class="ar" d="M917 412V397"/>
<path class="lr" d="M107 412H120M113 412V440H130V468M132 412H143M137 412V430H147V468M155 412H179M167 412V445H181V468M191 412H213M202 412V468M225 412H236M230 412V440H233V468M248 412H260M254 412V430H250V468M271 412H297M284 412V468M308 412H364M336 412V440H373V468M377 412H413M395 412V450H388V468M426 412H463M445 412V455H508V468M475 412H534M505 412V445H542V468M547 412H572M553 412V460H612V468M583 412H627M604 412V440H647V468M637 412H669M653 412V450H663V468M682 412H755M718 412V440H749V468M767 412H843M805 412V450H835V468M855 412H867M861 412V430H852V468M878 412H904M891 412V440H919V468M917 412V450H937V468"/>

<path class="ab" d="M95 545V520"/><path class="ab" d="M113 545V520"/><path class="ar" d="M130 545V520"/><path class="ar" d="M147 545V520"/><path class="ar" d="M164 545V520"/><path class="ar" d="M181 545V520"/><path class="ar" d="M201 553V520"/><path class="ab" d="M215 545V520"/><path class="ar" d="M233 545V520"/><path class="ar" d="M250 545V520"/><path class="ab" d="M267 539V520"/><path class="ar" d="M284 539V520"/><path class="ab" d="M301 539V520"/><path class="ab" d="M318 539V520"/><path class="ab" d="M336 539V520"/><path class="ab" d="M353 539V520"/><path class="ar" d="M373 543V520"/><path class="ar" d="M388 543V520"/><path class="ab" d="M404 540V520"/><path class="ab" d="M421 540V520"/><path class="ab" d="M439 534V520"/><path class="ab" d="M456 534V520"/><path class="ab" d="M473 534V520"/><path class="ab" d="M491 534V520"/><path class="ar" d="M508 534V520"/><path class="ar" d="M524 534V520"/><path class="ar" d="M542 534V520"/><path class="ab" d="M557 534V520"/><path class="ab" d="M578 534V520"/><path class="ab" d="M595 534V520"/><path class="ar" d="M612 534V520"/><path class="ar" d="M628 534V520"/><path class="ar" d="M646 534V520"/><path class="ar" d="M663 534V520"/><path class="ab" d="M680 534V520"/><path class="ab" d="M697 534V520"/><path class="ar" d="M713 534V520"/><path class="ar" d="M731 534V520"/><path class="ar" d="M749 534V520"/><path class="ab" d="M765 534V520"/><path class="ab" d="M783 534V520"/><path class="ab" d="M799 534V520"/><path class="ab" d="M817 534V520"/><path class="ar" d="M835 534V520"/><path class="ar" d="M852 534V520"/><path class="ar" d="M867 534V520"/><path class="ar" d="M885 534V520"/><path class="ar" d="M902 534V520"/><path class="ar" d="M919 534V520"/><path class="ar" d="M937 534V520"/>
<path class="lb" d="M95 545H181M155 545V559M557 534H595M578 534V545H707V559"/>
<path class="lr" d="M201 553H192V559M215 545H250M234 545V559M267 539H284M278 539V559M301 539H353M318 539V549H278M373 543H388M380 543V556H488V559M404 540H421M413 540V548H449V559M439 534H491M483 534V552H566V559M508 534H542M527 534V559M607 534H663M607 534V552H737V559M680 534H697M688 534V541H855V559M713 534H749M713 534V538H882V559M765 534H817M800 534V548H811V559M835 534H937M912 534V559"/>

<path class="ab" d="M155 590V577"/><path class="ar" d="M192 590V577"/><path class="ar" d="M234 590V577"/><path class="ar" d="M278 590V577"/>
<path class="lr" d="M155 590H278M222 590V597"/>
<path class="ab" d="M449 590V577"/><path class="ar" d="M488 590V577"/><path class="ar" d="M527 590V577"/><path class="ar" d="M566 590V577"/>
<path class="lr" d="M449 590H566M512 590V597"/>
<path class="ab" d="M680 590V577"/><path class="ab" d="M707 590V577"/><path class="ar" d="M737 590V577"/><path class="ar" d="M771 590V577"/><path class="ar" d="M811 590V577"/><path class="ar" d="M855 590V577"/><path class="ar" d="M882 590V577"/><path class="ar" d="M913 590V577"/>
<path class="lr" d="M680 590H913M780 590V597"/>
<path class="ar" d="M220 657V626"/><path class="ar" d="M512 648V626"/><path class="ar" d="M780 657V626"/>
<path class="lr" d="M220 657H432M640 657H780"/>
</g>
</svg>
